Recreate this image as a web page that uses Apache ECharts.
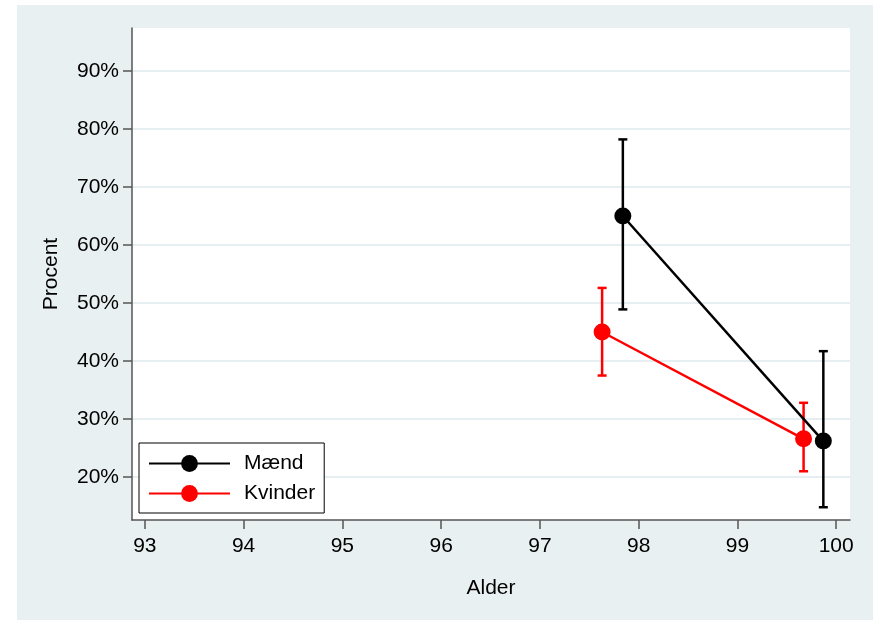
<!DOCTYPE html>
<html><head><meta charset="utf-8">
<script src="https://cdn.jsdelivr.net/npm/echarts@6/dist/echarts.min.js"></script>
<style>html,body{margin:0;padding:0;background:#fff}#c{width:874px;height:620px}</style>
</head><body><div id="c"></div>
<script>
var xTicks = [93, 94, 95, 96, 97, 98, 99, 100];
var yTicks = [20, 30, 40, 50, 60, 70, 80, 90];
var seriesNames = ['Mænd', 'Kvinder'];
var maendAge = [97.84, 99.87];
var maendPct = [65.0, 26.2];
var maendLo = [48.9, 14.8];
var maendHi = [78.2, 41.7];
var kvinderAge = [97.63, 99.67];
var kvinderPct = [45.0, 26.6];
var kvinderLo = [37.5, 21.0];
var kvinderHi = [52.6, 32.8];

var FONT = '"Liberation Sans", Arial, sans-serif';
var FS = 21;
var chart = echarts.init(document.getElementById('c'), null, {renderer: 'canvas'});

function errSeries(name, ages, lo, hi, color) {
  var data = ages.map(function (a, i) { return [a, lo[i], hi[i]]; });
  return {
    type: 'custom', name: name + '_err', silent: true, z: 2,
    data: data,
    renderItem: function (params, api) {
      var x = api.value(0);
      var p1 = api.coord([x, api.value(1)]);
      var p2 = api.coord([x, api.value(2)]);
      var hw = 4.5;
      var st = {stroke: color, lineWidth: 2.5};
      return {type: 'group', children: [
        {type: 'line', shape: {x1: p1[0], y1: p1[1], x2: p2[0], y2: p2[1]}, style: st},
        {type: 'line', shape: {x1: p1[0] - hw, y1: p1[1], x2: p1[0] + hw, y2: p1[1]}, style: st},
        {type: 'line', shape: {x1: p2[0] - hw, y1: p2[1], x2: p2[0] + hw, y2: p2[1]}, style: st}
      ]};
    }
  };
}
function lineSeries(name, ages, vals, color, z) {
  return {
    type: 'line', name: name, z: z,
    data: ages.map(function (a, i) { return [a, vals[i]]; }),
    symbol: 'circle', symbolSize: 17,
    lineStyle: {color: color, width: 2.5},
    itemStyle: {color: color},
    emphasis: {disabled: true}
  };
}

var axisCol = '#555555';
chart.setOption({
  animation: false,
  backgroundColor: 'transparent',
  graphic: [{type: 'rect', z: -10, silent: true,
    shape: {x: 17, y: 5, width: 856, height: 615},
    style: {fill: '#E8F0F2'}}],
  grid: {left: 132, top: 28, right: 24, bottom: 100, show: true,
    backgroundColor: '#ffffff', borderWidth: 0},
  legend: {
    orient: 'vertical', left: 139, top: 443,
    data: seriesNames,
    backgroundColor: '#ffffff', borderColor: '#000000', borderWidth: 1, borderRadius: 0,
    padding: [10, 9, 9, 9], itemGap: 9, itemWidth: 81, itemHeight: 21,
    textStyle: {fontFamily: FONT, fontSize: FS, color: '#000', padding: [0, 0, 0, 9]},
    selectedMode: false
  },
  xAxis: {
    type: 'value', min: 92.87, max: 100.14,
    name: 'Alder', nameLocation: 'middle', nameGap: 58,
    nameTextStyle: {fontFamily: FONT, fontSize: FS, color: '#000'},
    axisLine: {show: true, lineStyle: {color: axisCol, width: 1.5}},
    axisTick: {show: true, length: 9, customValues: xTicks, lineStyle: {color: axisCol, width: 1.5}},
    axisLabel: {customValues: xTicks, margin: 16, fontFamily: FONT, fontSize: FS, color: '#000'},
    splitLine: {show: false}
  },
  yAxis: {
    type: 'value', min: 12.6, max: 97.4,
    name: 'Procent', nameLocation: 'middle', nameGap: 70, nameRotate: 90,
    nameTextStyle: {fontFamily: FONT, fontSize: FS, color: '#000'},
    axisLine: {show: true, lineStyle: {color: axisCol, width: 1.5}},
    axisTick: {show: true, length: 9, customValues: yTicks, lineStyle: {color: axisCol, width: 1.5}},
    axisLabel: {customValues: yTicks, margin: 13, fontFamily: FONT, fontSize: FS, color: '#000',
      formatter: function (v) { return Math.round(v) + '%'; }},
    splitLine: {show: true, lineStyle: {color: '#E6EEF1', width: 2}}
  },
  series: [
    errSeries('Kvinder', kvinderAge, kvinderLo, kvinderHi, '#FF0000'),
    lineSeries('Kvinder', kvinderAge, kvinderPct, '#FF0000', 3),
    errSeries('Mænd', maendAge, maendLo, maendHi, '#000000'),
    lineSeries('Mænd', maendAge, maendPct, '#000000', 4)
  ]
});
</script></body></html>
